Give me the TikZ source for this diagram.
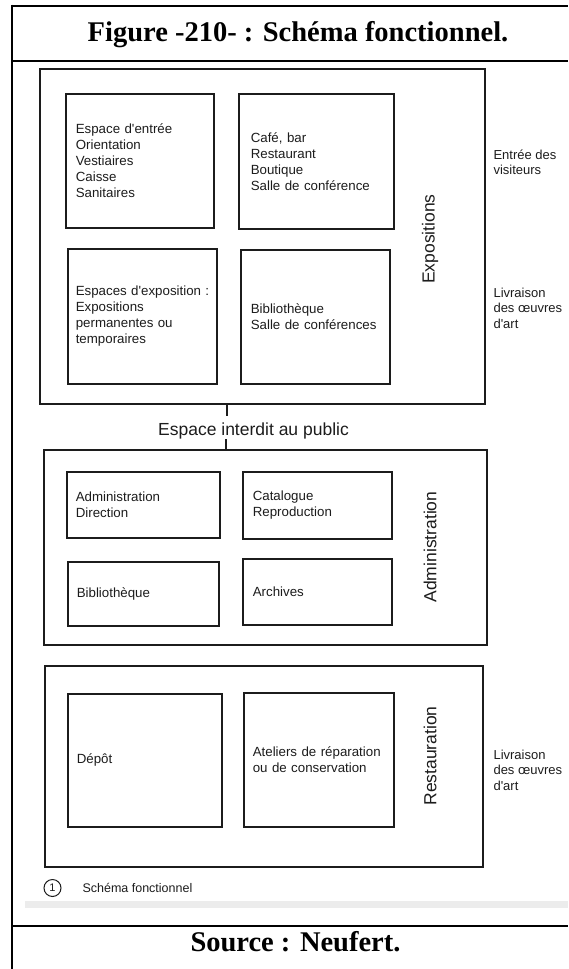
\documentclass[tikz,border=0pt]{standalone}
\usepackage{fontspec}
\setmainfont{Liberation Serif}
\newfontfamily\scanfont{Liberation Sans}
\definecolor{ink}{RGB}{28,28,28}
\definecolor{barcol}{RGB}{236,236,236}
\begin{document}
\begin{tikzpicture}[x=1pt,y=-1pt,
  frame/.style={draw=ink, line width=1.8pt, anchor=north west, inner sep=0pt},
  room/.style={draw=ink, line width=1.6pt, anchor=north west, align=left, inner xsep=10pt, inner ysep=0pt, text=ink, font=\scanfont\fontsize{13.3}{16}\selectfont},
  zone/.style={rotate=90, text=ink, font=\scanfont\fontsize{17.5}{20}\selectfont},
  side/.style={anchor=west, align=left, text=ink, font=\scanfont\fontsize{13}{15.5}\selectfont},
  rule/.style={line width=2pt, black},
  heading/.style={font=\bfseries\fontsize{28.5}{32}\selectfont, anchor=base}]
\useasboundingbox (0,0) rectangle (568,969);
% table rules
\draw[rule] (11.5,5.5) -- (568,5.5);
\draw[rule] (11.5,4.5) -- (11.5,969);
\draw[rule] (11.5,61) -- (568,61);
\draw[rule] (11.5,926) -- (568,926);
\node[heading] (title) at (298,41) {Figure -210- : Schéma fonctionnel.};
\node[heading] (source) at (295.5,951) {Source : Neufert.};
\fill[barcol] (25,901) rectangle (568,908);
% Expositions
\node[frame, minimum width=445pt, minimum height=335pt] (expo) at (39,68) {};
\node[room, text width=128pt, minimum height=134pt] (a) at (65,93) {Espace d'entrée\\Orientation\\Vestiaires\\Caisse\\Sanitaires};
\node[room, text width=131pt, minimum height=135pt, inner xsep=12pt] (b) at (238,93) {Café, bar\\Restaurant\\Boutique\\Salle de conférence};
\node[room, text width=133pt, minimum height=135pt, inner xsep=8pt] (c) at (67,248) {\mbox{Espaces d'exposition :}\\Expositions\\permanentes ou\\temporaires};
\node[room, text width=129pt, minimum height=134pt] (d) at (240,249) {Bibliothèque\\Salle de conférences};
\node[zone] (zexpo) at (430,239) {Expositions};
\node[side] (entree) at (490,162.5) {Entrée des\\visiteurs};
\node[side] (livr1) at (490,308) {Livraison\\des œuvres\\d'art};
% interdit
\node[anchor=base, text=ink, font=\scanfont\fontsize{17.5}{20}\selectfont] (forbid) at (253.5,435) {Espace interdit au public};
\coordinate (tA) at (227,416);
\coordinate (tB) at (226,439);
\draw[ink, line width=1.6pt] (tA |- expo.south) -- (tA);
% Administration
\node[frame, minimum width=443pt, minimum height=195pt] (admin) at (43,449) {};
\draw[ink, line width=1.6pt] (tB) -- (tB |- admin.north);
\node[room, text width=135pt, minimum height=66pt, inner xsep=9pt] (e) at (66,471) {Administration\\Direction};
\node[room, text width=129pt, minimum height=67pt] (f) at (242,471) {Catalogue\\Reproduction};
\node[room, text width=133pt, minimum height=64pt, inner xsep=9pt] (g) at (67,561) {Bibliothèque};
\node[room, text width=129pt, minimum height=66pt] (h) at (242,558) {Archives};
\node[zone] (zadmin) at (430,547) {Administration};
% Restauration
\node[frame, minimum width=438pt, minimum height=201pt] (resto) at (44,665) {};
\node[room, text width=136pt, minimum height=133pt, inner xsep=9pt] (i) at (67,693) {Dépôt};
\node[room, text width=132pt, minimum height=134pt, inner xsep=9pt] (j) at (243,692) {Ateliers de réparation\\ou de conservation};
\node[zone] (zresto) at (430,756) {Restauration};
\node[side] (livr2) at (490,770) {Livraison\\des œuvres\\d'art};
% footer of scan
\node[draw=ink, circle, line width=1pt, minimum size=17pt, inner sep=0pt, text=ink, font=\scanfont\fontsize{11}{12}\selectfont] (num) at (52.5,888) {1};
\node[anchor=west, text=ink, font=\scanfont\fontsize{12.5}{14}\selectfont] (cap) at (79,888) {Schéma fonctionnel};
\end{tikzpicture}
\end{document}
